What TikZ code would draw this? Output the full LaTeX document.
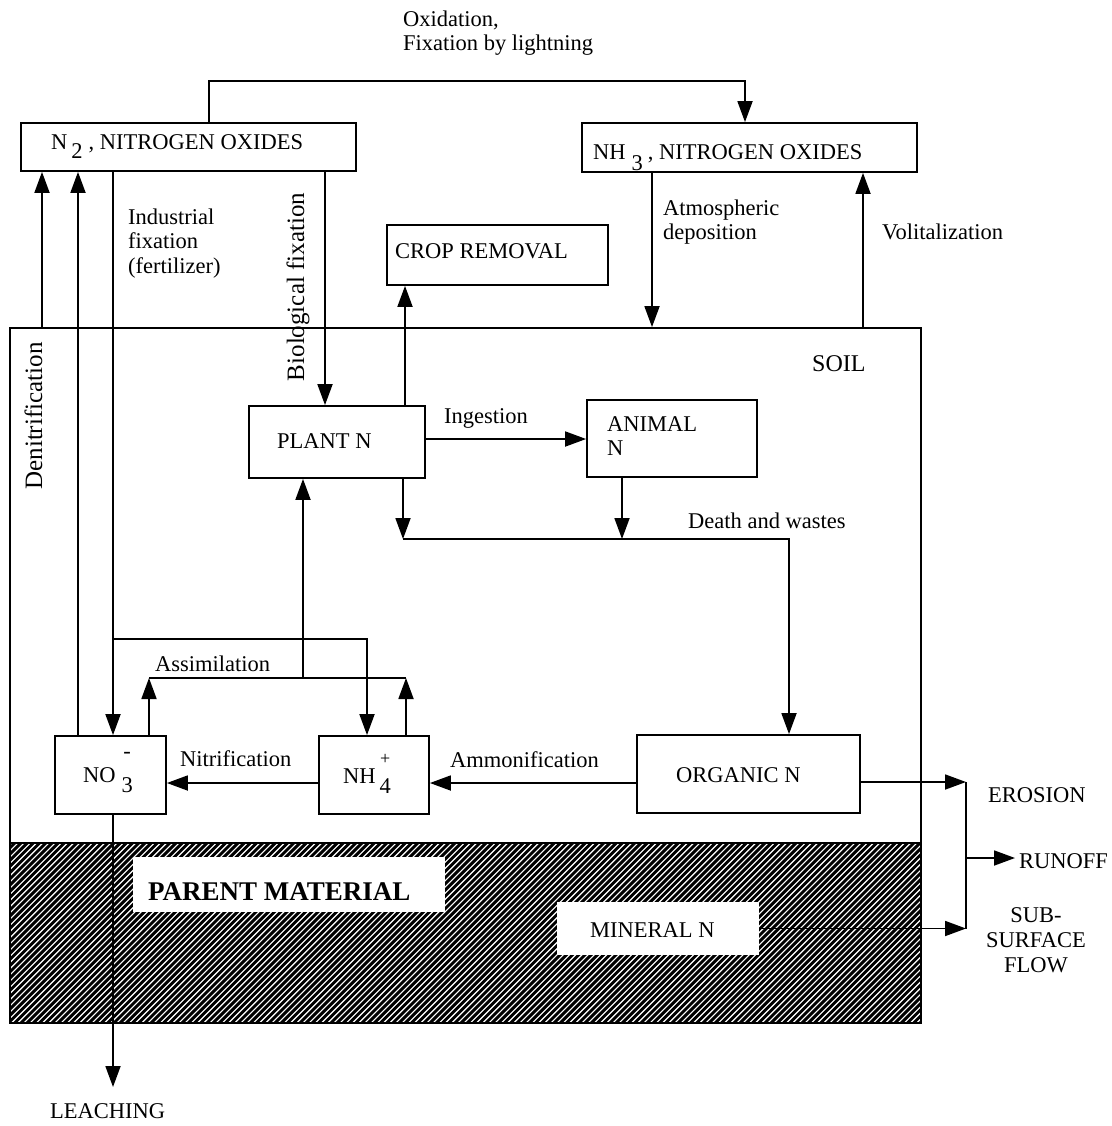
\documentclass[tikz,border=0pt]{standalone}
\usepackage{fontspec}
\setmainfont{Liberation Serif}
\usetikzlibrary{arrows.meta}
\newcommand\fsmain{\fontsize{22.5}{24.5}\selectfont}
\begin{document}
\begin{tikzpicture}[x=1pt,y=-1pt,
  every node/.style={font=\fsmain},
  box/.style={draw, line width=1.8pt, inner sep=0pt},
  wbox/.style={fill=white, inner sep=0pt},
  txt/.style={inner sep=0pt, align=left},
  ln/.style={line width=1.8pt},
  arr/.style={line width=1.8pt, -{Triangle[length=21pt,width=15pt]}},
]
\useasboundingbox[fill=white] (0,0) rectangle (1111,1126);

% ---- hatch (parent material) ----
\begin{scope}
  \clip (10,843) rectangle (921,1023);
  \foreach \i in {0,...,190}
    \draw[line width=2.9pt] ({-190+\i*6.2},1023) -- ++(190,-190);
\end{scope}
\node[box, minimum width=911pt, minimum height=180pt] (pm) at (465.5,933) {};
\node[box, minimum width=911pt, minimum height=515pt] (soil) at (465.5,585.5) {};
\node[wbox, minimum width=312pt, minimum height=55pt] (parent) at (289,884.5) {};
\node[wbox, minimum width=202pt, minimum height=53pt] (mineral) at (658,928.5) {};

% ---- boxes ----
\node[box, minimum width=335pt, minimum height=48pt] (n2) at (188.5,147) {};
\node[box, minimum width=335pt, minimum height=49pt] (nh3) at (749.5,147.5) {};
\node[box, minimum width=221pt, minimum height=60pt] (crop) at (497.5,255) {};
\node[box, minimum width=176pt, minimum height=72pt] (plant) at (337,442) {};
\node[box, minimum width=170pt, minimum height=77pt] (animal) at (672,438.5) {};
\node[box, minimum width=223pt, minimum height=78pt] (organic) at (748.5,774) {};
\node[box, minimum width=111pt, minimum height=78pt] (no3) at (110.5,775) {};
\node[box, minimum width=110pt, minimum height=78pt] (nh4) at (374,775) {};

% ---- texts ----
\node[txt, anchor=base west] (n2T) at (51,150) {N\hspace{4pt}\raisebox{-9pt}{2}\hspace{6pt}, NITROGEN OXIDES};
\node[txt, anchor=base west] (nh3T) at (593,160) {NH\hspace{6pt}\raisebox{-11pt}{3}\hspace{5pt}, NITROGEN OXIDES};
\node[txt, anchor=north west] (oxT) at (403,10.5) {Oxidation,\\Fixation by lightning};
\node[txt, anchor=north west] (indT) at (128,208.5) {Industrial\\fixation\\(fertilizer)};
\node[txt, anchor=north west] (atmT) at (663,199.5) {Atmospheric\\deposition};
\node[txt, anchor=base west] (cropT) at (395,258) {CROP REMOVAL};
\node[txt, anchor=base west] (volT) at (882,239) {Volitalization};
\node[txt, anchor=base west, font=\fontsize{24}{26}\selectfont] (soilT) at (812,371) {SOIL};
\node[txt, anchor=base, rotate=90, font=\fontsize{25}{27}\selectfont] (denT) at (42,416) {Denitrification};
\node[txt, anchor=base, rotate=90, font=\fontsize{25}{27}\selectfont] (bioT) at (304,287) {Biological fixation};
\node[txt, anchor=base west] (plantT) at (277,448) {PLANT N};
\node[txt, anchor=base west] (ingT) at (444,423) {Ingestion};
\node[txt, anchor=north west, font=\fontsize{22.5}{23.5}\selectfont] (animalT) at (607,416.5) {ANIMAL\\N};
\node[txt, anchor=base west] (dwT) at (688,528) {Death and wastes};
\node[txt, anchor=base west] (asT) at (155,671) {Assimilation};
\node[txt, anchor=base west] (nitT) at (180,766) {Nitrification};
\node[txt, anchor=base west] (ammT) at (450,767) {Ammonification};
\node[txt, anchor=base west] (no3T) at (83,782) {NO\hspace{6pt}\makebox[0pt][l]{\raisebox{-10pt}{3}}\makebox[11pt]{\raisebox{24pt}{-}}};
\node[txt, anchor=base west] (nh4T) at (343,783) {NH\hspace{4pt}\makebox[0pt][l]{\raisebox{-10pt}{4}}\makebox[11pt]{\raisebox{19pt}{\fontsize{18}{18}\selectfont +}}};
\node[txt, anchor=base west] (orgT) at (676,782) {ORGANIC N};
\node[txt, anchor=base west] (minT) at (590,937) {MINERAL N};
\node[txt, anchor=base west, font=\bfseries\fontsize{27}{30}\selectfont] (pmT) at (148,900) {PARENT MATERIAL};
\node[txt, anchor=base west] (eroT) at (988,802) {EROSION};
\node[txt, anchor=base west] (runT) at (1019,868) {RUNOFF};
\node[txt, anchor=north, align=center, font=\fontsize{22.5}{25}\selectfont] (subT) at (1036,907.5) {SUB-\\SURFACE\\FLOW};
\node[txt, anchor=base west] (leachT) at (50,1118) {LEACHING};

% ---- helper coordinates ----
\coordinate (xDen) at (42,0);
\coordinate (xNO) at (78,0);
\coordinate (xInd) at (113,0);
\coordinate (xOx) at (209,0);
\coordinate (xBio) at (325,0);
\coordinate (xCrop) at (405,0);
\coordinate (xAtm) at (652,0);
\coordinate (xOxE) at (745,0);
\coordinate (xVol) at (863,0);
\coordinate (yOx) at (0,81);
\coordinate (yIng) at (0,439);
\coordinate (xPd) at (403,0);
\coordinate (xAd) at (622,0);
\coordinate (yDW) at (0,539);
\coordinate (xDW) at (789,0);
\coordinate (yInd) at (0,639);
\coordinate (xIndR) at (367,0);
\coordinate (yAs) at (0,678);
\coordinate (xAsL) at (149,0);
\coordinate (xAsR) at (406,0);
\coordinate (xAsP) at (303,0);
\coordinate (yNit) at (0,783);
\coordinate (yEro) at (0,782);
\coordinate (yRun) at (0,858);
\coordinate (xJ) at (966,0);
\coordinate (runEnd) at (1015,858);
\coordinate (leachEnd) at (113,1087);

% ---- connectors ----
\draw[arr] (n2.north -| xOx) |- (yOx -| xOxE) -- (nh3.north -| xOxE);
\draw[arr] (soil.north -| xDen) -- (n2.south -| xDen);
\draw[arr] (no3.north -| xNO) -- (n2.south -| xNO);
\draw[arr] (n2.south -| xInd) -- (no3.north -| xInd);
\draw[arr] (yInd -| xInd) -| (nh4.north -| xIndR);
\draw[arr] (n2.south -| xBio) -- (plant.north -| xBio);
\draw[arr] (nh3.south -| xAtm) -- (soil.north -| xAtm);
\draw[arr] (soil.north -| xVol) -- (nh3.south -| xVol);
\draw[arr] (plant.north -| xCrop) -- (crop.south -| xCrop);
\draw[arr] (plant.east |- yIng) -- (animal.west |- yIng);
\draw[arr] (plant.south -| xPd) -- (yDW -| xPd);
\draw[arr] (animal.south -| xAd) -- (yDW -| xAd);
\draw[arr] (yDW -| xPd) -| (organic.north -| xDW);
\draw[arr] (no3.north -| xAsL) -- (yAs -| xAsL);
\draw[arr] (nh4.north -| xAsR) -- (yAs -| xAsR);
\draw[ln] (yAs -| xAsL) -- (yAs -| xAsR);
\draw[arr] (yAs -| xAsP) -- (plant.south -| xAsP);
\draw[arr] (nh4.west |- yNit) -- (no3.east |- yNit);
\draw[arr] (organic.west |- yNit) -- (nh4.east |- yNit);
\draw[arr] (no3.south -| xInd) -- (leachEnd);
\draw[arr] (organic.east |- yEro) -- (yEro -| xJ);
\draw[arr] (mineral.east) -- (mineral.east -| xJ);
\draw[ln] (yEro -| xJ) -- (mineral.east -| xJ);
\draw[arr] (yRun -| xJ) -- (runEnd);
\end{tikzpicture}
\end{document}
